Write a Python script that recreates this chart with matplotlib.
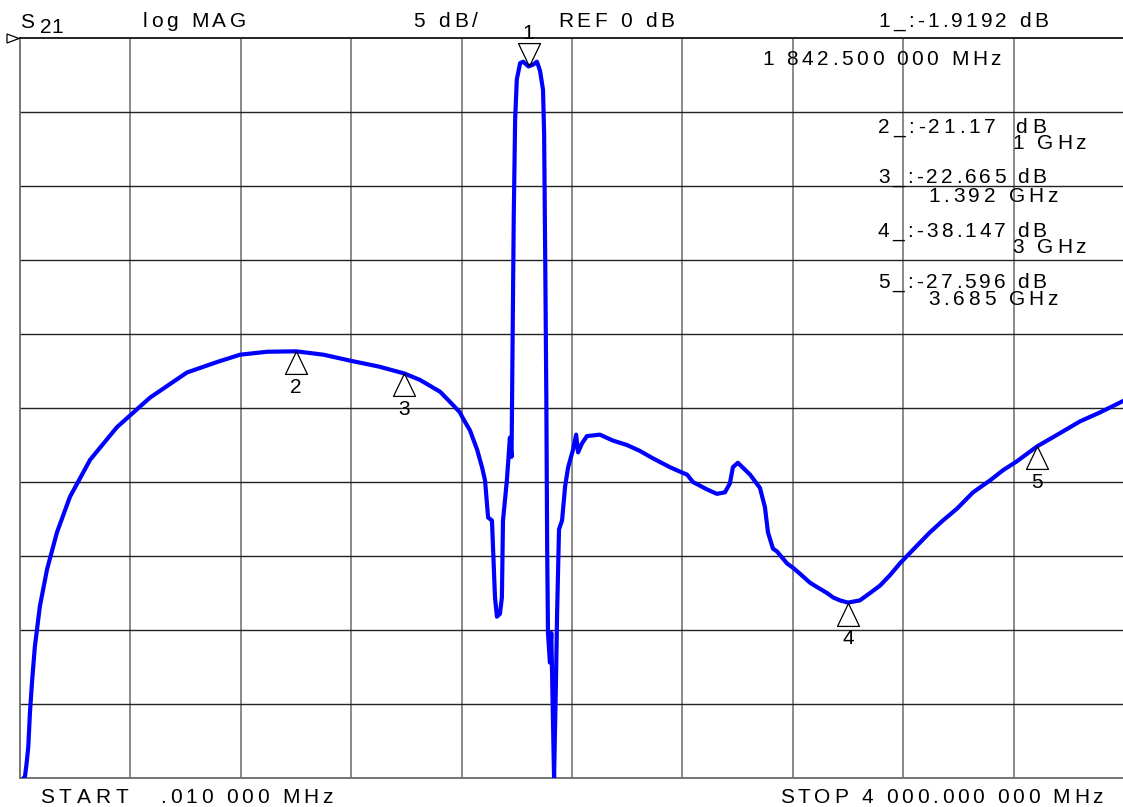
import numpy as np
import matplotlib
matplotlib.use('Agg')
import matplotlib.pyplot as plt
from matplotlib.path import Path
from matplotlib.patches import Polygon
from matplotlib.font_manager import FontProperties, findfont
from matplotlib.ft2font import FT2Font

# ............................................................ trace data
freq_mhz = [0.01, 18, 24, 30, 36, 44, 54, 72, 98, 134, 181, 254, 351, 471, 605, 713, 797, 895,
            1000, 1100, 1196, 1300, 1392, 1449, 1522, 1569, 1594, 1605, 1630, 1656, 1674, 1685,
            1696, 1710, 1721, 1728, 1739, 1746, 1750, 1764, 1775, 1781, 1785, 1789,
            1794, 1800, 1812, 1823, 1842.5, 1859, 1873, 1884, 1895, 1899, 1903, 1907,
            1910, 1913, 1920, 1925, 1935, 1942, 1946, 1953, 1964, 1975, 1986, 2004,
            2015, 2022, 2036, 2054, 2101, 2148, 2199, 2246, 2293, 2355, 2391, 2417, 2438,
            2489, 2525, 2554, 2572, 2583, 2601, 2645, 2681, 2699, 2710, 2728, 2743, 2779,
            2801, 2826, 2862, 2888, 2924, 2946, 2971, 3000, 3043, 3080, 3116, 3152, 3188,
            3250, 3297, 3344, 3395, 3453, 3514, 3562, 3612, 3685, 3768, 3841, 3913, 4000]
s21_db = [-50.3, -49.9, -49.0, -47.9, -45.6, -43.4, -41.1, -38.4, -35.9, -33.4, -31.0, -28.5,
          -26.3, -24.3, -22.6, -21.9, -21.4, -21.2,
          -21.17, -21.4, -21.8, -22.2, -22.665, -23.1, -23.9, -24.8, -25.3, -25.7, -26.5, -27.8,
          -29.0, -29.9, -32.4, -32.6, -37.8, -39.1, -38.9, -37.8, -32.6, -29.9, -27.0, -28.3,
          -20.0, -12.0, -5.5, -2.8, -1.7, -1.6, -1.92, -1.8, -1.6, -2.2, -3.5, -6.5, -15.0, -24.3,
          -34.4, -40.2, -42.2, -40.2, -50.0, -43.4, -38.9, -33.2, -32.6, -30.3, -29.0, -27.8,
          -26.8, -28.0, -27.4, -26.9, -26.8, -27.2, -27.5, -27.9, -28.4, -29.0, -29.3, -29.5,
          -30.0, -30.5, -30.8, -30.7, -30.1, -29.0, -28.7, -29.5, -30.4, -31.7, -33.4, -34.5,
          -34.7, -35.5, -35.8, -36.2, -36.8, -37.1, -37.5, -37.8, -38.0, -38.147, -38.0, -37.5,
          -37.0, -36.3, -35.5, -34.3, -33.4, -32.6, -31.8, -30.7, -29.9, -29.2, -28.6, -27.596,
          -26.7, -25.9, -25.3, -24.5]

# ............................................................ markers
marker_id = ['1', '2', '3', '4', '5']
marker_freq = [1842.5, 1000, 1392, 3000, 3685]
marker_db = [-1.9192, -21.17, -22.665, -38.147, -27.596]

W, H, DPI = 1123, 807, 100
FONT = 'Liberation Sans'
SIZE = 15

fig = plt.figure(figsize=(W/DPI, H/DPI), dpi=DPI)
fig.patch.set_facecolor('white')
ax = fig.add_axes([20/W, 29/H, 1104/W, 740/H])
ax.set_xlim(0.01, 4000)
ax.set_ylim(-50, 0)

# ....................................................... graticule
for x in np.linspace(0.01, 4000, 11)[1:]:
  ax.axvline(x, color='#6a6a6a', lw=1.1, zorder=1)
for y in np.arange(-45, 0, 5):
  ax.axhline(y, color='#222222', lw=1.0, zorder=1)
ax.set_xticks([])
ax.set_yticks([])
for side in ['left', 'bottom']:
  ax.spines[side].set_color('#6a6a6a')
  ax.spines[side].set_linewidth(1.3)
ax.spines['top'].set_color('#111111')
ax.spines['top'].set_linewidth(1.3)
ax.spines['right'].set_visible(False)

# ....................................................... trace
ax.plot(freq_mhz, s21_db, color='#0000ff', lw=3.0, zorder=3,
        solid_joinstyle='round', solid_capstyle='round')

# ....................................................... marker triangles
up = Path([(0, 0), (-0.48, -1), (0.48, -1), (0, 0)], closed=True)
down = Path([(0, 0), (-0.48, 1), (0.48, 1), (0, 0)], closed=True)
for lab, f, d in zip(marker_id, marker_freq, marker_db):
  if lab == '1':
    ax.plot(f, d, marker=down, ms=33, mfc='none', mec='black', mew=0.9, zorder=4, clip_on=False)
    ax.annotate(lab, (f, d), xytext=(0, 24), textcoords='offset points', ha='center',
                va='center', fontsize=SIZE, family=FONT)
  else:
    ax.plot(f, d, marker=up, ms=33, mfc='none', mec='black', mew=0.9, zorder=4, clip_on=False)
    ax.annotate(lab, (f, d), xytext=(0, -26), textcoords='offset points', ha='center',
                va='center', fontsize=SIZE, family=FONT)

# ....................................................... annotation text
ft = FT2Font(findfont(FontProperties(family=FONT)))

def tracked(s, x0, x1, yb, size=SIZE):
  # spread the characters of s between pixel x0 and x1 on baseline yb
  ft.set_size(size, 72)
  adv = [ft.load_char(ord(c)).linearHoriAdvance/65536.0*DPI/72 for c in s]
  gap = (x1 - x0 - sum(adv))/max(len(s) - 1, 1)
  x = x0
  for c, a in zip(s, adv):
    fig.text(x/W, 1 - yb/H, c, fontsize=size, family=FONT, ha='left', va='baseline')
    x += a + gap

tracked('S', 20, 32, 28)
tracked('21', 40, 63, 33)
tracked('log MAG', 143, 246, 27)
tracked('5 dB/', 413, 478, 27)
tracked('REF 0 dB', 558, 674, 27)
tracked('1_:-1.9192 dB', 878, 1048, 27)
tracked('1 842.500 000 MHz', 762, 1001, 65)
tracked('2_:-21.17', 878, 995, 133)
tracked('dB', 1015, 1046, 133)
tracked('1 GHz', 1012, 1086, 149)
tracked('3_:-22.665 dB', 878, 1046, 183)
tracked('1.392 GHz', 928, 1058, 202)
tracked('4_:-38.147 dB', 878, 1046, 237)
tracked('3 GHz', 1012, 1086, 253)
tracked('5_:-27.596 dB', 878, 1046, 288)
tracked('3.685 GHz', 928, 1058, 305)
tracked('START', 40, 128, 803)
tracked('.010 000 MHz', 160, 333, 803)
tracked('STOP 4 000.000 000 MHz', 780, 1103, 803)

# small reference-level pointer at the left edge
fig.patches.append(Polygon([(7/W, 1-34/H), (7/W, 1-43/H), (19/W, 1-38.5/H)], closed=True,
                           fill=False, edgecolor='black', lw=0.9, transform=fig.transFigure))

plt.savefig('out.png', dpi=DPI)
